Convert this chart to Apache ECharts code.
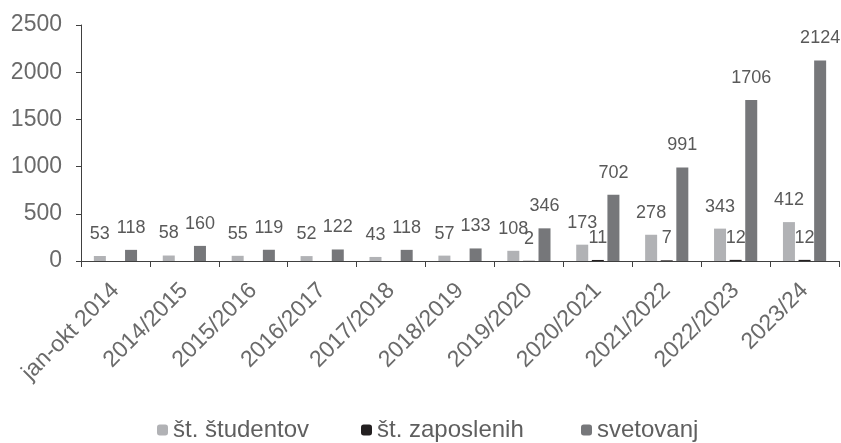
<!DOCTYPE html>
<html>
<head>
<meta charset="utf-8">
<script src="https://cdn.jsdelivr.net/npm/echarts@6/dist/echarts.min.js"></script>
<style>html,body{margin:0;padding:0;background:#fff}#c{width:841px;height:443px}</style>
</head>
<body>
<div id="c"></div>
<script>
const categories = ['jan-okt 2014','2014/2015','2015/2016','2016/2017','2017/2018','2018/2019','2019/2020','2020/2021','2021/2022','2022/2023','2023/24'];
const studentov = [53,58,55,52,43,57,108,173,278,343,412];
const zaposlenih = [null,null,null,null,null,null,2,11,7,12,12];
const svetovanj = [118,160,119,122,118,133,346,702,991,1706,2124];
const seriesNames = ['št. študentov','št. zaposlenih','svetovanj'];
const yTicks = {min:0, max:2500, interval:500};

const chart = echarts.init(document.getElementById('c'));
const FONT = 'Liberation Sans';
const labelCfg = {show:true, position:'top', distance:13, fontSize:18, color:'#595959', fontFamily:FONT};
const legendLefts = [152, 356, 576];
const legends = seriesNames.map((n,i)=>({
  left:legendLefts[i], top:413, itemWidth:11, itemHeight:11, itemGap:5,
  textStyle:{fontSize:24, color:'#5f5f5f', fontFamily:FONT},
  data:[n]
}));
chart.setOption({
  animation:false,
  textStyle:{fontFamily:FONT},
  grid:{left:81, right:2, top:25, bottom:182, containLabel:false},
  legend:legends,
  xAxis:{
    type:'category', data:categories,
    axisLine:{lineStyle:{color:'#404040', width:1}},
    axisTick:{show:true, alignWithLabel:false, length:6, lineStyle:{color:'#404040'}},
    axisLabel:{interval:0, rotate:45, fontSize:23, color:'#6a6a6a', margin:26}
  },
  yAxis:{
    type:'value', min:yTicks.min, max:yTicks.max, interval:yTicks.interval,
    axisLine:{show:true, lineStyle:{color:'#404040'}},
    axisTick:{show:true, length:5, lineStyle:{color:'#404040'}},
    splitLine:{show:false},
    axisLabel:{fontSize:23, color:'#6a6a6a', margin:19, formatter:v=>String(v)}
  },
  series:[
    {name:seriesNames[0], type:'bar', data:studentov, barWidth:12, barGap:'30%', itemStyle:{color:'#b1b2b5'}, label:labelCfg},
    {name:seriesNames[1], type:'bar', data:zaposlenih, barWidth:12, barGap:'30%', itemStyle:{color:'#231f20'}, label:labelCfg},
    {name:seriesNames[2], type:'bar', data:svetovanj, barWidth:12, barGap:'30%', itemStyle:{color:'#76777a'}, label:labelCfg}
  ]
});
</script>
</body>
</html>
